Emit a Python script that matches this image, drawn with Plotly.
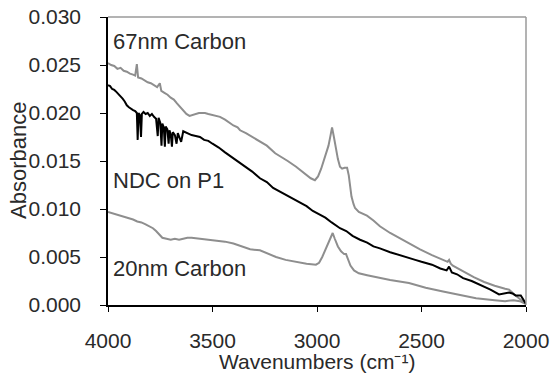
import plotly.graph_objects as go

# ---- data (wavenumber cm^-1, absorbance) ----
wn_67 = [4000, 3985, 3970, 3955, 3940, 3925, 3910, 3895, 3880, 3870, 3862, 3856, 3840, 3825,
         3810, 3795, 3780, 3765, 3752, 3745, 3730, 3715, 3700, 3685, 3670, 3655, 3640, 3625,
         3610, 3595, 3580, 3565, 3550, 3536, 3520, 3500, 3480, 3464, 3440, 3420, 3400, 3380,
         3368, 3340, 3300, 3273, 3240, 3200, 3177, 3140, 3100, 3081, 3050, 3030, 3010, 2995,
         2980, 2965, 2955, 2945, 2935, 2928, 2920, 2910, 2900, 2890, 2880, 2868, 2856, 2848,
         2842, 2835, 2825, 2818, 2800, 2780, 2761, 2730, 2699, 2650, 2600, 2550, 2507, 2450,
         2400, 2375, 2368, 2360, 2350, 2300, 2250, 2200, 2150, 2100, 2081, 2050, 2020, 2000]
abs_67 = [0.0252, 0.0250, 0.0249, 0.0246, 0.0247, 0.0244, 0.0243, 0.0241, 0.0240, 0.0239, 0.0251,
          0.0237, 0.0236, 0.0234, 0.0232, 0.0231, 0.0229, 0.0227, 0.0231, 0.0223, 0.0221, 0.0219,
          0.0216, 0.0214, 0.0210, 0.0206, 0.0202, 0.0199, 0.0197, 0.0198, 0.0199, 0.0200, 0.0200,
          0.0200, 0.0199, 0.0198, 0.0197, 0.0196, 0.0193, 0.0190, 0.0187, 0.0185, 0.0182, 0.0179,
          0.0174, 0.0170, 0.0166, 0.0158, 0.0155, 0.0150, 0.0144, 0.0141, 0.0136, 0.0132, 0.0130,
          0.0134, 0.0142, 0.0152, 0.0160, 0.0166, 0.0177, 0.0185, 0.0176, 0.0163, 0.0152, 0.0144,
          0.0142, 0.0143, 0.0143, 0.0135, 0.0123, 0.0113, 0.0105, 0.0101, 0.0097, 0.0095, 0.0093,
          0.0088, 0.0082, 0.0075, 0.0069, 0.0063, 0.0058, 0.0052, 0.0047, 0.0045, 0.0047, 0.0043,
          0.0041, 0.0035, 0.0029, 0.0024, 0.0020, 0.0017, 0.0016, 0.0010, 0.0004, 0.0001]

wn_ndc = [4000, 3990, 3980, 3970, 3960, 3950, 3940, 3930, 3920, 3910, 3900, 3890, 3880, 3870,
          3862, 3858, 3854, 3848, 3842, 3838, 3830, 3820, 3810, 3800, 3790, 3780, 3770, 3762,
          3758, 3750, 3744, 3740, 3733, 3728, 3724, 3716, 3710, 3706, 3700, 3694, 3690, 3680,
          3672, 3666, 3660, 3650, 3640, 3620, 3600, 3580, 3560, 3540, 3520, 3500, 3470, 3440,
          3400, 3368, 3340, 3310, 3273, 3240, 3210, 3177, 3150, 3120, 3081, 3050, 3020, 2986,
          2960, 2930, 2890, 2860, 2830, 2794, 2760, 2730, 2699, 2650, 2600, 2570, 2530, 2500,
          2450, 2410, 2397, 2380, 2368, 2355, 2330, 2301, 2260, 2230, 2206, 2170, 2129, 2100,
          2081, 2065, 2050, 2025, 2010, 2000]
abs_ndc = [0.0229, 0.0228, 0.0225, 0.0224, 0.0222, 0.0220, 0.0218, 0.0215, 0.0212, 0.0208,
           0.0206, 0.0204, 0.0203, 0.0202, 0.0200, 0.0172, 0.0200, 0.0198, 0.0175, 0.0199,
           0.0201, 0.0199, 0.0200, 0.0197, 0.0199, 0.0196, 0.0194, 0.0176, 0.0195, 0.0190,
           0.0166, 0.0189, 0.0185, 0.0165, 0.0186, 0.0183, 0.0168, 0.0182, 0.0178, 0.0165,
           0.0180, 0.0177, 0.0168, 0.0179, 0.0176, 0.0170, 0.0181, 0.0179, 0.0177, 0.0176,
           0.0175, 0.0172, 0.0171, 0.0168, 0.0164, 0.0159, 0.0153, 0.0148, 0.0144, 0.0139,
           0.0132, 0.0128, 0.0122, 0.0118, 0.0115, 0.0111, 0.0106, 0.0103, 0.0098, 0.0094,
           0.0091, 0.0086, 0.0080, 0.0077, 0.0072, 0.0068, 0.0065, 0.0061, 0.0059, 0.0055,
           0.0052, 0.0050, 0.0047, 0.0045, 0.0042, 0.0038, 0.0037, 0.0036, 0.0040, 0.0034,
           0.0032, 0.0028, 0.0025, 0.0022, 0.0019, 0.0016, 0.0011, 0.0012, 0.0013, 0.0012,
           0.0010, 0.0010, 0.0005, 0.0001]

wn_20 = [4000, 3985, 3970, 3955, 3940, 3920, 3900, 3880, 3860, 3840, 3820, 3800, 3785, 3770,
         3755, 3740, 3720, 3700, 3680, 3660, 3640, 3620, 3600, 3560, 3520, 3480, 3440, 3400,
         3360, 3320, 3273, 3230, 3196, 3150, 3100, 3050, 3005, 2990, 2975, 2960, 2945, 2935,
         2925, 2915, 2900, 2885, 2870, 2861, 2852, 2840, 2823, 2800, 2760, 2718, 2650, 2560,
         2480, 2397, 2300, 2239, 2150, 2100, 2060, 2030, 2000]
abs_20 = [0.0097, 0.0096, 0.0095, 0.0094, 0.0093, 0.0092, 0.0090, 0.0089, 0.0087, 0.0086,
          0.0084, 0.0082, 0.0080, 0.0077, 0.0073, 0.0070, 0.0069, 0.0068, 0.0069, 0.0068,
          0.0069, 0.0070, 0.0070, 0.0069, 0.0068, 0.0067, 0.0066, 0.0064, 0.0061, 0.0058,
          0.0057, 0.0053, 0.0050, 0.0047, 0.0045, 0.0043, 0.0042, 0.0044, 0.0050, 0.0058,
          0.0065, 0.0071, 0.0075, 0.0069, 0.0061, 0.0056, 0.0053, 0.0053, 0.0048, 0.0041,
          0.0036, 0.0033, 0.0031, 0.0029, 0.0026, 0.0023, 0.0018, 0.0014, 0.0010, 0.0007,
          0.0005, 0.0004, 0.0005, 0.0004, 0.0001]

labels = ["67nm Carbon", "NDC on P1", "20nm Carbon"]
label_y = [0.0274, 0.0130, 0.0038]
x_ticks = [4000, 3500, 3000, 2500, 2000]
y_ticks = [0.000, 0.005, 0.010, 0.015, 0.020, 0.025, 0.030]
x_title = "Wavenumbers (cm\u207b\u00b9)"
y_title = "Absorbance"

GRAY = "#8e8e8e"
TXT = "#2a2a2a"
FONT = "Liberation Sans, Arial, sans-serif"

fig = go.Figure()
fig.add_trace(go.Scatter(x=wn_67, y=abs_67, mode="lines", line=dict(color=GRAY, width=2)))
fig.add_trace(go.Scatter(x=wn_20, y=abs_20, mode="lines", line=dict(color=GRAY, width=2)))
fig.add_trace(go.Scatter(x=wn_ndc, y=abs_ndc, mode="lines", line=dict(color="#000000", width=2)))

for t, yv in zip(labels, label_y):
    fig.add_annotation(x=3985, y=yv, xref="x", yref="y", text=t, showarrow=False,
                       xanchor="left", yanchor="middle",
                       font=dict(family=FONT, size=22, color=TXT))

# axis titles
fig.add_annotation(x=0.5, y=0, xref="paper", yref="paper", text=x_title, showarrow=False,
                   xanchor="center", yanchor="top", yshift=-44, borderpad=0,
                   font=dict(family=FONT, size=21, color=TXT))
fig.add_annotation(x=0, y=0.5, xref="paper", yref="paper", text=y_title, showarrow=False,
                   textangle=-90, xanchor="center", yanchor="middle", xshift=-90,
                   font=dict(family=FONT, size=22, color=TXT))

# grey frame on top and right
fig.add_shape(type="line", xref="paper", yref="paper", x0=0, x1=1, y0=1, y1=1,
              line=dict(color="#9a9a9a", width=1.5))
fig.add_shape(type="line", xref="paper", yref="paper", x0=1, x1=1, y0=0, y1=1,
              line=dict(color="#9a9a9a", width=1.5))

fig.update_layout(
    width=556, height=376,
    margin=dict(l=108, r=30, t=17, b=71),
    paper_bgcolor="white", plot_bgcolor="white",
    showlegend=False,
    font=dict(family=FONT, size=21, color=TXT),
    xaxis=dict(range=[4000, 2000], tickvals=x_ticks, ticktext=[str(v) for v in x_ticks],
               showgrid=False, zeroline=False, showline=True, linecolor="black", linewidth=1.5,
               ticks="outside", ticklen=5, tickcolor="black", ticklabelstandoff=11,
               automargin=False,
               tickfont=dict(family=FONT, size=21, color=TXT)),
    yaxis=dict(range=[0, 0.030], tickvals=y_ticks, ticktext=["%.3f" % v for v in y_ticks],
               showgrid=False, zeroline=False, showline=True, linecolor="black", linewidth=1.5,
               ticks="outside", ticklen=6, tickcolor="black", ticklabelstandoff=15,
               automargin=False,
               tickfont=dict(family=FONT, size=21, color=TXT)),
)

fig.write_html("out.html")
